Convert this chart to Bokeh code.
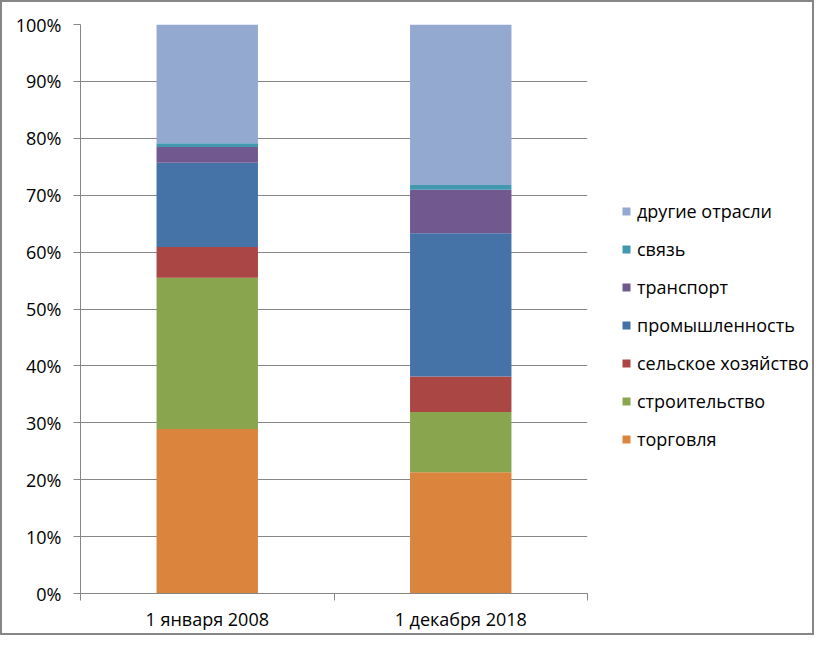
from bokeh.plotting import figure
from bokeh.layouts import row
from bokeh.models import (ColumnDataSource, Range1d, FixedTicker, PrintfTickFormatter,
                          Legend, LegendItem)
from bokeh.embed import file_html
from bokeh.resources import INLINE

categories = ["1 января 2008", "1 декабря 2018"]
torgovlya = [28.9, 21.3]
stroitelstvo = [26.6, 10.6]
selskoe = [5.4, 6.25]
promyshl = [14.8, 25.15]
transport = [2.75, 7.65]
svyaz = [0.7, 0.85]
drugie = [20.85, 28.2]

series_names = ["торговля", "строительство", "сельское хозяйство", "промышленность",
                "транспорт", "связь", "другие отрасли"]
series_values = [torgovlya, stroitelstvo, selskoe, promyshl, transport, svyaz, drugie]
colors = ["#DB843D", "#89A54E", "#AA4643", "#4572A7", "#71588F", "#4198AF", "#93A9CF"]
y_ticks = list(range(0, 101, 10))

FONT = "Open Sans"
GRAY = "#868686"

data = {"x": [i + 0.5 for i in range(len(categories))]}
for n, v in zip(series_names, series_values):
    data[n] = v
source = ColumnDataSource(data)

p = figure(width=600, height=631, output_backend="svg", toolbar_location=None,
           x_range=Range1d(0, len(categories)), y_range=Range1d(0, 100),
           min_border_left=78, min_border_right=15, min_border_top=22, min_border_bottom=20)
p.outline_line_color = None

renderers = p.vbar_stack(series_names, x="x", width=0.4, color=colors, source=source,
                         line_color=None)

# Axes
p.xgrid.grid_line_color = None
p.ygrid.grid_line_color = GRAY
p.ygrid.grid_line_width = 1
p.ygrid.ticker = FixedTicker(ticks=y_ticks)

p.yaxis.ticker = FixedTicker(ticks=y_ticks)
p.yaxis.formatter = PrintfTickFormatter(format="%d%%")
p.yaxis.axis_line_color = GRAY
p.yaxis.major_tick_line_color = GRAY
p.yaxis.major_tick_out = 7
p.yaxis.major_tick_in = 0
p.yaxis.minor_tick_line_color = None
p.yaxis.major_label_standoff = 12
p.yaxis.major_label_text_font = FONT
p.yaxis.major_label_text_font_size = "18px"
p.yaxis.major_label_text_color = "#000000"

xt = [i + 0.5 for i in range(len(categories))]
p.xaxis.ticker = FixedTicker(ticks=xt, minor_ticks=list(range(len(categories) + 1)))
p.xaxis.major_label_overrides = {t: c for t, c in zip(xt, categories)}
p.xaxis.axis_line_color = GRAY
p.xaxis.major_tick_line_color = None
p.xaxis.major_tick_out = 0
p.xaxis.major_tick_in = 0
p.xaxis.minor_tick_line_color = GRAY
p.xaxis.minor_tick_out = 7
p.xaxis.minor_tick_in = 0
p.xaxis.major_label_standoff = 6
p.xaxis.major_label_text_font = FONT
p.xaxis.major_label_text_font_size = "18px"
p.xaxis.major_label_text_color = "#000000"

# Legend panel (legend swatches only; the dummy bars have zero size)
pl = figure(width=210, height=631, output_backend="svg", toolbar_location=None,
            x_axis_type=None, y_axis_type=None, min_border=0,
            x_range=Range1d(0, 1), y_range=Range1d(0, 1))
pl.outline_line_color = None
pl.xgrid.visible = False
pl.ygrid.visible = False
dummies = [pl.vbar(x=[0.5], top=[0], bottom=[0], width=0, color=c, line_color=None)
           for c in colors]
items = [LegendItem(label=n, renderers=[r], index=0)
         for n, r in zip(series_names, dummies)][::-1]
legend = Legend(items=items, location=(19, 142), orientation="vertical",
                glyph_width=10, glyph_height=10, label_standoff=6, spacing=14,
                label_height=20, padding=0, margin=0, border_line_color=None,
                background_fill_alpha=0, label_text_font=FONT, label_text_font_size="18px",
                label_text_color="#000000")
pl.add_layout(legend)

layout = row(p, pl, spacing=0)
layout.styles = {"border": "2px solid " + GRAY}

open("out.html", "w").write(file_html(layout, INLINE))
